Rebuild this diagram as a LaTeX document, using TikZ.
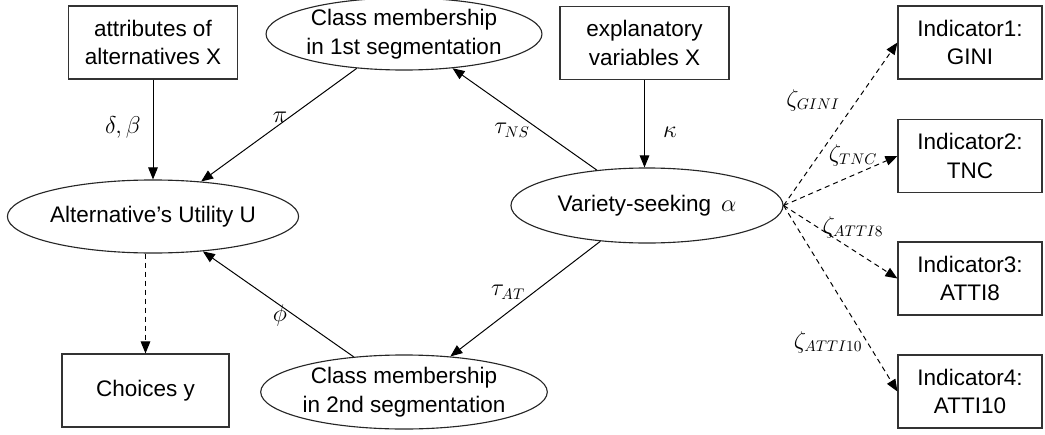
\documentclass[tikz,border=0pt]{standalone}
\usepackage{fontspec}
\setmainfont{Liberation Sans}
\usepackage{amsmath}
\usetikzlibrary{shapes.geometric,arrows.meta}

\tikzset{
  box/.style={draw=black!80, line width=0.8pt, minimum width=4.225cm, minimum height=1.825cm,
    align=center, inner sep=0pt},
  ind/.style={box, minimum width=3.6cm},
  ell/.style={draw=black!85, ellipse, line width=0.8pt, minimum width=6.8cm, minimum height=1.85cm,
    align=center, inner sep=0pt},
  arr/.style={-{Triangle[length=3mm,width=2.4mm]}, line width=0.7pt},
  darr/.style={arr, dash pattern=on 3.6pt off 2.8pt},
}

\begin{document}
\begin{tikzpicture}[x=0.025cm, y=-0.025cm, font=\fontsize{16}{20.5}\selectfont]
\useasboundingbox (0, 0) rectangle (1045, 434);

\node[box] (attr) at (153, 42.5) {attributes of\\alternatives X};
\node[box] (expl) at (644.5, 43) {explanatory\\variables X};
\node[ell, minimum width=6.85cm, minimum height=1.8cm] (cm1) at (404, 34) {Class membership\\in 1st segmentation};
\node[ell, minimum width=7.225cm, minimum height=1.825cm] (util) at (153, 216.5) {Alternative's Utility U};
\node[ell, minimum height=1.875cm] (var) at (647, 205.5) {Variety-seeking\, $\alpha$};
\node[ell] (cm2) at (404, 392) {Class membership\\in 2nd segmentation};
\node[box, minimum width=4.175cm] (choi) at (145.5, 390.5) {Choices y};

\node[ind] (ind1) at (970, 42.5) {Indicator1:\\GINI};
\node[ind] (ind2) at (970, 156) {Indicator2:\\TNC};
\node[ind] (ind3) at (970, 278.5) {Indicator3:\\ATTI8};
\node[ind] (ind4) at (970, 391.5) {Indicator4:\\ATTI10};

\draw (attr) to (util)[arr];
\draw (cm1) to (util)[arr];
\draw (var) to (cm1)[arr];
\draw (expl) to (expl |- var.north)[arr];
\draw (var) to (cm2)[arr];
\draw (cm2) to (util)[arr];
\draw (choi.north |- util.south) to (choi.north)[darr];

\draw (var.east) to (ind1.west)[darr];
\draw (var.east) to (ind2.west)[darr];
\draw (var.east) to (ind3.west)[darr];
\draw (var.east) to (ind4.west)[darr];

\node (l1) at (123, 127) {$\delta,\beta$};
\node (l2) at (280, 117) {$\pi$};
\node (l3) at (512, 130) {$\tau_{NS}$};
\node (l4) at (670, 132) {$\kappa$};
\node (l5) at (508, 292) {$\tau_{AT}$};
\node (l6) at (280, 315) {$\phi$};
\node (l7) at (813, 100) {$\zeta_{GINI}$};
\node (l8) at (853, 155) {$\zeta_{TNC}$};
\node (l9) at (853, 227) {$\zeta_{ATTI8}$};
\node (l10) at (828, 342) {$\zeta_{ATTI10}$};

\end{tikzpicture}
\end{document}
